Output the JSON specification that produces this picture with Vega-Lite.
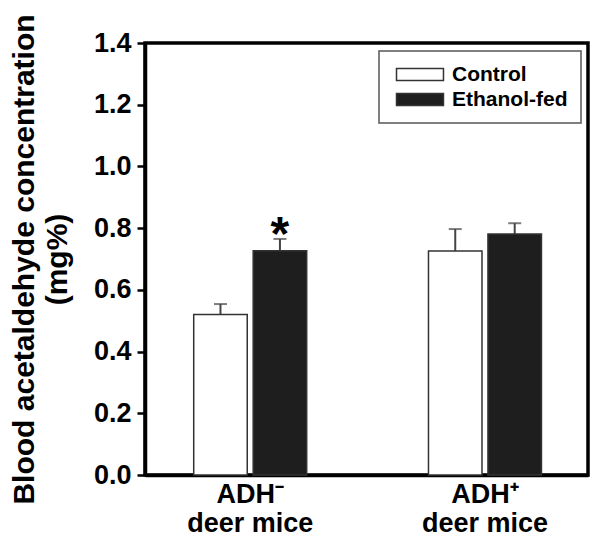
{
  "$schema": "https://vega.github.io/schema/vega-lite/v6.json",
  "width": 443,
  "height": 432,
  "autosize": {"type": "none"},
  "padding": {"left": 145, "top": 43, "right": 15, "bottom": 72},
  "background": "white",
  "config": {
    "view": {"stroke": "black", "strokeWidth": 3.5},
    "font": "Liberation Sans",
    "axis": {"labelFont": "Liberation Sans", "titleFont": "Liberation Sans", "labelFontWeight": "bold", "titleFontWeight": "bold", "labelColor": "black", "titleColor": "black", "domainColor": "black", "tickColor": "black", "grid": false},
    "legend": {"labelFont": "Liberation Sans", "labelFontWeight": "bold", "strokeColor": "#555", "strokeWidth": 1.5}
  },
  "data": {
    "values": [
      {"group": "ADH-", "treatment": "Control", "mean": 0.52, "upper": 0.554, "star": ""},
      {"group": "ADH-", "treatment": "Ethanol-fed", "mean": 0.727, "upper": 0.765, "star": "*"},
      {"group": "ADH+", "treatment": "Control", "mean": 0.726, "upper": 0.797, "star": ""},
      {"group": "ADH+", "treatment": "Ethanol-fed", "mean": 0.781, "upper": 0.816, "star": ""}
    ]
  },
  "encoding": {
    "x": {
      "field": "group", "type": "nominal", "sort": null,
      "scale": {"paddingInner": 0.5, "paddingOuter": 0.1935, "align": 0.512},
      "axis": {
        "title": null, "ticks": false, "domainWidth": 3.5, "labelAngle": 0,
        "labelFontSize": 27, "labelLineHeight": 29, "labelPadding": 6, "labelBaseline": "top",
        "labelExpr": "datum.value == 'ADH-' ? ['ADH⁻', 'deer mice'] : ['ADH⁺', 'deer mice']"
      }
    },
    "xOffset": {"field": "treatment", "type": "nominal", "sort": null, "scale": {"paddingInner": 0.1, "paddingOuter": 0.037}}
  },
  "layer": [
    {
      "mark": {"type": "rule", "color": "#444", "strokeWidth": 2},
      "encoding": {
        "y": {"field": "mean", "type": "quantitative"},
        "y2": {"field": "upper"}
      }
    },
    {
      "mark": {"type": "tick", "color": "#444", "thickness": 2, "size": 13, "orient": "horizontal"},
      "encoding": {
        "y": {"field": "upper", "type": "quantitative"}
      }
    },
    {
      "mark": {"type": "bar", "stroke": "#333", "strokeWidth": 1.5},
      "encoding": {
        "y": {
          "field": "mean", "type": "quantitative",
          "scale": {"domain": [0, 1.4], "nice": false, "zero": true},
          "axis": {
            "values": [0, 0.2, 0.4, 0.6, 0.8, 1.0, 1.2, 1.4], "format": ".1f",
            "title": ["Blood acetaldehyde concentration", "(mg%)"],
            "labelFontSize": 27, "labelPadding": 6, "tickSize": 8, "tickWidth": 2.5, "domainWidth": 3.5,
            "titleFontSize": 30, "titleLineHeight": 33, "titleAngle": -90, "titleX": -136, "titleY": 216,
            "titleBaseline": "top", "titleAlign": "center"
          }
        },
        "fill": {
          "field": "treatment", "type": "nominal",
          "scale": {"domain": ["Control", "Ethanol-fed"], "range": ["white", "#1e1e1e"]},
          "legend": {
            "title": null, "orient": "none", "legendX": 234, "legendY": 8,
            "padding": 13, "fillColor": "white",
            "symbolType": "M-1,-1H6.83V1H-1Z", "symbolSize": 144,
            "symbolStrokeColor": "#333", "symbolStrokeWidth": 1.5, "symbolOpacity": 1,
            "labelFontSize": 21, "labelOffset": 39, "rowPadding": 3, "labelColor": "black"
          }
        }
      }
    },
    {
      "transform": [{"filter": "datum.star == '*'"}],
      "mark": {"type": "text", "fontSize": 48, "fontWeight": "bold", "baseline": "alphabetic", "dy": 11, "color": "black"},
      "encoding": {
        "y": {"field": "upper", "type": "quantitative"},
        "text": {"field": "star"}
      }
    }
  ]
}
